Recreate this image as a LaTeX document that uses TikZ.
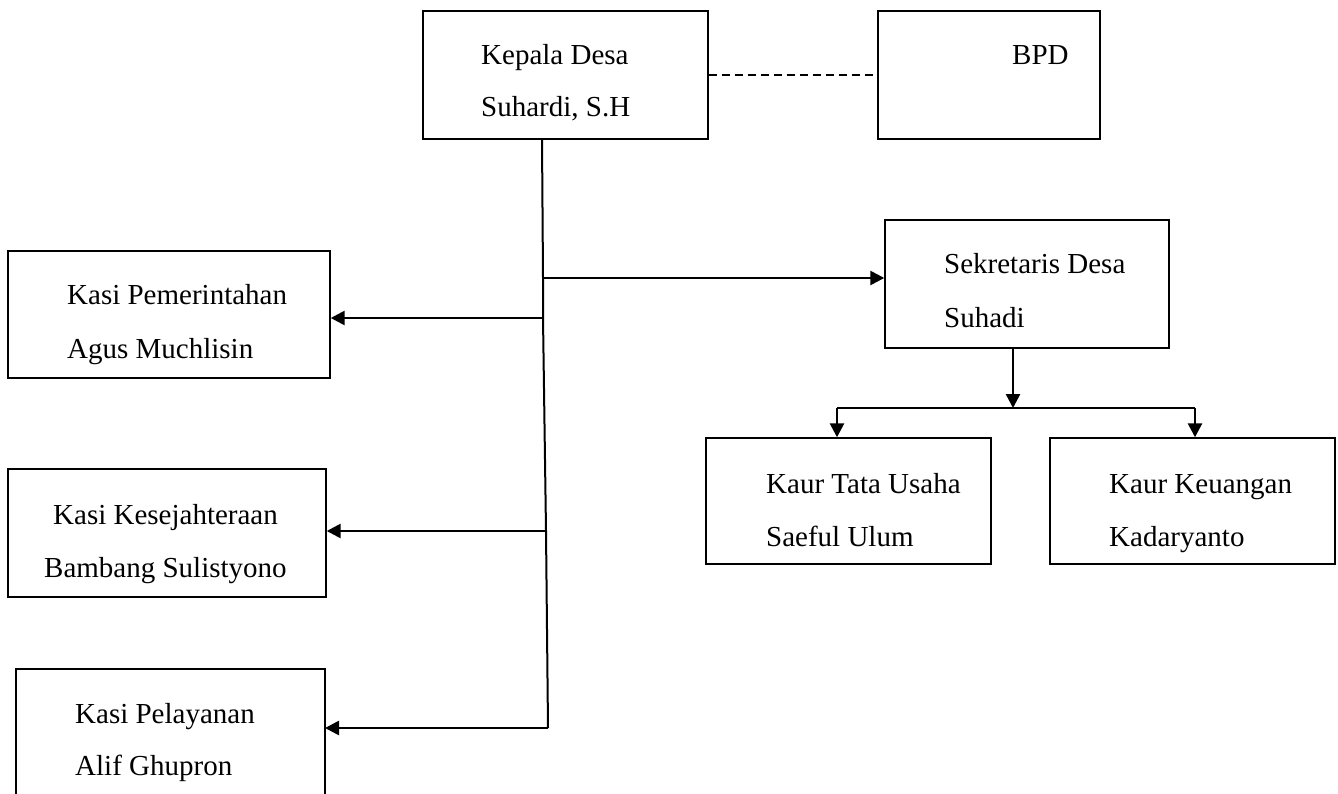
\documentclass[tikz,border=0pt]{standalone}
\usepackage{fontspec}
\setmainfont{Liberation Serif}
\usetikzlibrary{arrows.meta}
\begin{document}
\begin{tikzpicture}[x=1pt,y=-1pt,
  box/.style={draw,line width=1.4pt,rectangle,inner sep=0pt},
  txt/.style={anchor=base west,inner sep=0pt,font=\fontsize{29}{32}\selectfont},
  conn/.style={line width=2pt},
  arr/.style={line width=2.6pt,-{Triangle[length=14pt,width=14pt]}}]
\clip (0,0) rectangle (1338,794);
% boxes
\node[box,minimum width=285pt,minimum height=128pt] (kd) at (565.5,75) {};
\node[box,minimum width=222pt,minimum height=128pt] (bpd) at (989,75) {};
\node[box,minimum width=284pt,minimum height=128pt] (sd) at (1027,284) {};
\node[box,minimum width=322pt,minimum height=127pt] (kp) at (169,314.5) {};
\node[box,minimum width=318pt,minimum height=128pt] (kk) at (167,533) {};
\draw[line width=1.4pt] (16,810) -- (16,669) -- (325,669) -- (325,810);
\coordinate (kpl) at (325,728);
\node[box,minimum width=285pt,minimum height=126pt] (kt) at (848.5,501) {};
\node[box,minimum width=285pt,minimum height=126pt] (ku) at (1192.5,501) {};
% texts
\node[txt] (t1) at (481,65) {Kepala Desa};
\node[txt] (t2) at (481,117) {Suhardi, S.H};
\node[txt] (t3) at (1012,65) {BPD};
\node[txt] (t4) at (944,273) {Sekretaris Desa};
\node[txt] (t5) at (944,327) {Suhadi};
\node[txt] (t6) at (67,305) {Kasi Pemerintahan};
\node[txt] (t7) at (67,358) {Agus Muchlisin};
\node[txt] (t8) at (53,524) {Kasi Kesejahteraan};
\node[txt] (t9) at (44,577) {Bambang Sulistyono};
\node[txt] (t10) at (75,723) {Kasi Pelayanan};
\node[txt] (t11) at (75,775) {Alif Ghupron};
\node[txt] (t12) at (766,493) {Kaur Tata Usaha};
\node[txt] (t13) at (766,546) {Saeful Ulum};
\node[txt] (t14) at (1109,493) {Kaur Keuangan};
\node[txt] (t15) at (1109,546) {Kadaryanto};
% connectors
\draw[line width=2pt,dash pattern=on 8pt off 5pt] (kd.east) -- (bpd.west);
\coordinate (v0) at (542,139);
\coordinate (j1) at (543,278);
\coordinate (j2) at (543,318);
\coordinate (j3) at (546,531);
\coordinate (j4) at (548,728);
\draw[conn] (v0) -- (j1) -- (j2) -- (j3) -- (j4);
\draw[arr] (j1) -- (sd.west |- j1);
\draw[arr] (j2) -- (kp.east |- j2);
\draw[arr] (j3) -- (kk.east |- j3);
\draw[arr] (j4) -- (kpl);
\coordinate (s0) at (1013,348);
\coordinate (s1) at (1013,408);
\coordinate (hl) at (837,408);
\coordinate (hr) at (1195,408);
\draw[arr] (s0) -- (s1);
\draw[conn] (hl) -- (hr);
\draw[arr] (hl) -- (hl |- kt.north);
\draw[arr] (hr) -- (hr |- ku.north);
\end{tikzpicture}
\end{document}
